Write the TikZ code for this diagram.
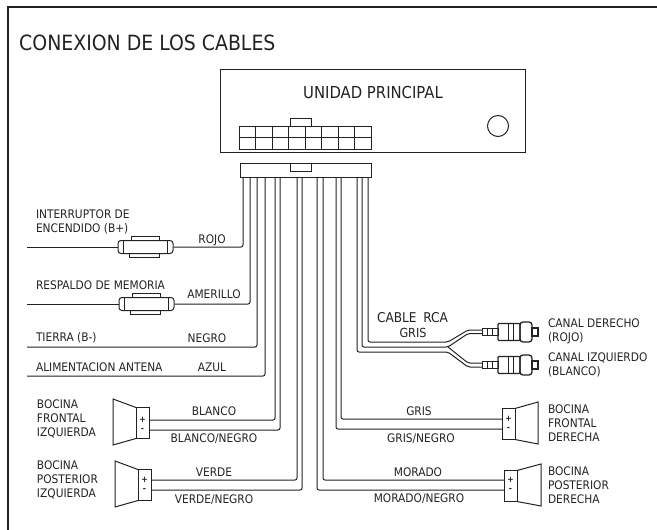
\documentclass[tikz,border=0pt]{standalone}
\usepackage{fontspec}
\setmainfont{DejaVu Sans Condensed}
\usetikzlibrary{positioning}
\definecolor{ink}{HTML}{222222}
\tikzstyle{wire}=[draw=ink, line width=1pt, rounded corners=2pt]
\tikzstyle{edge}=[draw=ink, line width=1pt]
\tikzstyle{cell}=[draw=ink, line width=1pt, minimum width=16.5pt, minimum height=11.5pt, inner sep=0, outer sep=0]
\tikzstyle{tag}=[text=ink, font=\fontsize{11.8}{14}\selectfont, inner sep=0, outer sep=0]
\tikzstyle{side}=[tag, anchor=west, align=left, font=\fontsize{11.8}{14}\selectfont]
\tikzstyle{fuse}=[draw=ink, line width=1pt, fill=white, rounded corners=3pt, minimum width=55pt, minimum height=13pt, inner sep=0]
\tikzstyle{term}=[draw=ink, line width=1pt, minimum width=13pt, minimum height=31pt, inner sep=0, outer sep=0]
\tikzstyle{sign}=[text=ink, font=\bfseries\fontsize{8.5}{8.5}\selectfont, inner sep=0]
\begin{document}
\begin{tikzpicture}[x=1pt, y=-1pt]
	\useasboundingbox (0,0) rectangle (657,530);
	\draw[edge, line width=1.2pt] (8,530) -- (8,7) -- (657,7);
	\node[anchor=west, text=ink, font=\fontsize{21}{23}\selectfont, inner sep=0] (title) at (19,43) {CONEXION DE LOS CABLES};

	% head unit
	\node[edge, minimum width=305pt, minimum height=83pt, inner sep=0] (unit) at (372.5,110.5) {};
	\node[text=ink, font=\fontsize{16.5}{18}\selectfont, inner sep=0] (unitname) at (373,92) {UNIDAD PRINCIPAL};
	\node[edge, circle, minimum size=21pt, inner sep=0] (knob) at (498,126) {};
	\matrix (socket) [ampersand replacement=\&, inner sep=0pt, outer sep=0pt, anchor=center, column sep=-1pt, row sep=-1pt] at (305,137.5) {
		\node[cell] {}; \& \node[cell] {}; \& \node[cell] {}; \& \node[cell] {}; \& \node[cell] {}; \& \node[cell] {}; \& \node[cell] {}; \& \node[cell] {}; \\
		\node[cell] {}; \& \node[cell] {}; \& \node[cell] {}; \& \node[cell] {}; \& \node[cell] {}; \& \node[cell] {}; \& \node[cell] {}; \& \node[cell] {}; \\
	};
	\node[edge, minimum width=21pt, minimum height=8pt, inner sep=0] (sockettab) at (300.5,122) {};

	% plug
	\node[edge, minimum width=131pt, minimum height=14pt, inner sep=0, outer sep=0] (plug) at (305.5,170) {};
	\node[edge, minimum width=21pt, minimum height=8pt, inner sep=0] (plugtab) at (300.5,167) {};
	\foreach \n/\x in {rojo/243,amar/250,negro/257,azul/265,bla/275,blan/280,ver/297,vern/302,
			morn/317,mor/323,grin/336,gri/341,rcaa/357,rcab/362,rcac/368}
		\coordinate (\n) at (\x,177);

	% fuses
	\node[fuse] (fusea) at (145.5,247) {};
	\node[fuse] (fuseb) at (146.5,304) {};
	\foreach \f in {fusea,fuseb} {
		\draw[edge] ([xshift=6pt]\f.north west) -- ([xshift=6pt]\f.south west);
		\draw[edge] ([xshift=-6pt]\f.north east) -- ([xshift=-6pt]\f.south east);
		\draw[edge] ([xshift=14pt]\f.north west) -- ++(0,-3.5) -- ++(28,0) -- ++(0,3.5);
		\draw[edge] ([xshift=12pt]\f.south west) -- ++(0,3.5) -- ++(30,0) -- ++(0,-3.5);
	}
	\coordinate (freea) at (27,247);
	\coordinate (freeb) at (27,304);
	\coordinate (freec) at (27,347);
	\coordinate (freed) at (27,376);
	\draw[wire] (freea) -- (fusea.west);
	\draw[wire] (freeb) -- (fuseb.west);
	\draw[wire] (rojo) |- (fusea.east);
	\draw[wire] (amar) |- (fuseb.east);
	\draw[wire] (negro) |- (freec);
	\draw[wire] (azul) |- (freed);

	% speakers
	\node[term] (spka) at (142.5,423) {};
	\node[term] (spkb) at (144.5,485) {};
	\node[term] (spkc) at (508.5,424) {};
	\node[term] (spkd) at (510.5,486) {};
	\foreach \s/\y in {spka/420,spkb/480,spkc/419,spkd/480} {
		\node[sign] (\s p) at (\s |- 0,\y) {+};
		\node[sign] (\s m) at (\s |- 0,\y+10) {-};
	}
	\draw[edge] (spka.north west) -- (113,399) -- (113,445) -- (spka.south west);
	\draw[edge] (spkb.north west) -- (115,461) -- (115,507) -- (spkb.south west);
	\draw[edge] (spkc.north east) -- (538,402) -- (538,444) -- (spkc.south east);
	\draw[edge] (spkd.north east) -- (541,464) -- (541,506) -- (spkd.south east);
	\draw[wire] (bla) |- (spka.east |- spkap);
	\draw[wire] (blan) |- (spka.east |- spkam);
	\draw[wire] (ver) |- (spkb.east |- spkbp);
	\draw[wire] (vern) |- (spkb.east |- spkbm);
	\draw[wire] (gri) |- (spkc.west |- spkcp);
	\draw[wire] (grin) |- (spkc.west |- spkcm);
	\draw[wire] (mor) |- (spkd.west |- spkdp);
	\draw[wire] (morn) |- (spkd.west |- spkdm);

	% rca lead
	\foreach \n/\y in {up/332,down/365} {
		\node[edge, minimum width=16pt, minimum height=7pt, inner sep=0, outer sep=0] (tip\n) at (490,\y) {};
		\node[edge, line width=1.3pt, minimum width=22pt, minimum height=17pt, inner sep=0, outer sep=0, rounded corners=1pt] (body\n) at (509,\y) {};
		\node[edge, line width=1.3pt, minimum width=12pt, minimum height=20pt, inner sep=0, outer sep=0, rounded corners=3pt] (cap\n) at (526,\y) {};
		\node[edge, line width=1.3pt, minimum width=6pt, minimum height=8pt, inner sep=0, outer sep=0] (end\n) at (535,\y) {};
		\draw[edge] (508,\y-8.5) -- (508,\y+8.5) (513,\y-8.5) -- (513,\y+8.5);
		\draw[edge] (487,\y-3.5) -- (487,\y+3.5) (492,\y-3.5) -- (492,\y+3.5);
	}
	\draw[wire] (rcac) |- (448,342) -- (468,330) -- (tipup.west |- 0,330);
	\draw[wire] (rcab) |- (448,347) -- (468,333.5) -- (tipup.west |- 0,333.5);
	\draw[wire] (448,347) -- (468,363) -- (tipdown.west |- 0,363);
	\draw[wire] (rcaa) |- (448,352) -- (468,367) -- (tipdown.west |- 0,367);

	% labels
	\node[side] (lbla) at (36,222) {INTERRUPTOR DE\\ENCENDIDO (B+)};
	\node[side] (lblb) at (36,285) {RESPALDO DE MEMORIA};
	\node[side] (lblc) at (36,338) {TIERRA (B-)};
	\node[side] (lbld) at (36,367) {ALIMENTACION ANTENA};
	\node[side] (lble) at (37,419) {BOCINA\\FRONTAL\\IZQUIERDA};
	\node[side] (lblf) at (37,480) {BOCINA\\POSTERIOR\\IZQUIERDA};
	\node[side] (lblg) at (548,423) {BOCINA\\FRONTAL\\DERECHA};
	\node[side] (lblh) at (548,485) {BOCINA\\POSTERIOR\\DERECHA};
	\node[side] (lbli) at (548,331) {CANAL DERECHO\\(ROJO)};
	\node[side] (lblj) at (548,365) {CANAL IZQUIERDO\\(BLANCO)};
	\node[tag] (tagrojo) at (212,240) {ROJO};
	\node[tag] (tagamar) at (214,294) {AMERILLO};
	\node[tag] (tagnegro) at (207,338) {NEGRO};
	\node[tag] (tagazul) at (212,367) {AZUL};
	\node[tag] (tagbla) at (214,411) {BLANCO};
	\node[tag] (tagblan) at (214,439) {BLANCO/NEGRO};
	\node[tag] (tagver) at (214,472) {VERDE};
	\node[tag] (tagvern) at (214,500) {VERDE/NEGRO};
	\node[tag] (taggri) at (419,411) {GRIS};
	\node[tag] (taggrin) at (421,439) {GRIS/NEGRO};
	\node[tag] (tagmor) at (418,472) {MORADO};
	\node[tag] (tagmorn) at (419,499) {MORADO/NEGRO};
	\node[tag, font=\fontsize{13.5}{15}\selectfont] (tagcable) at (412.5,318) {CABLE\enspace RCA};
	\node[tag, font=\fontsize{12.5}{14}\selectfont] (tagrca) at (413,333) {GRIS};
\end{tikzpicture}
\end{document}
